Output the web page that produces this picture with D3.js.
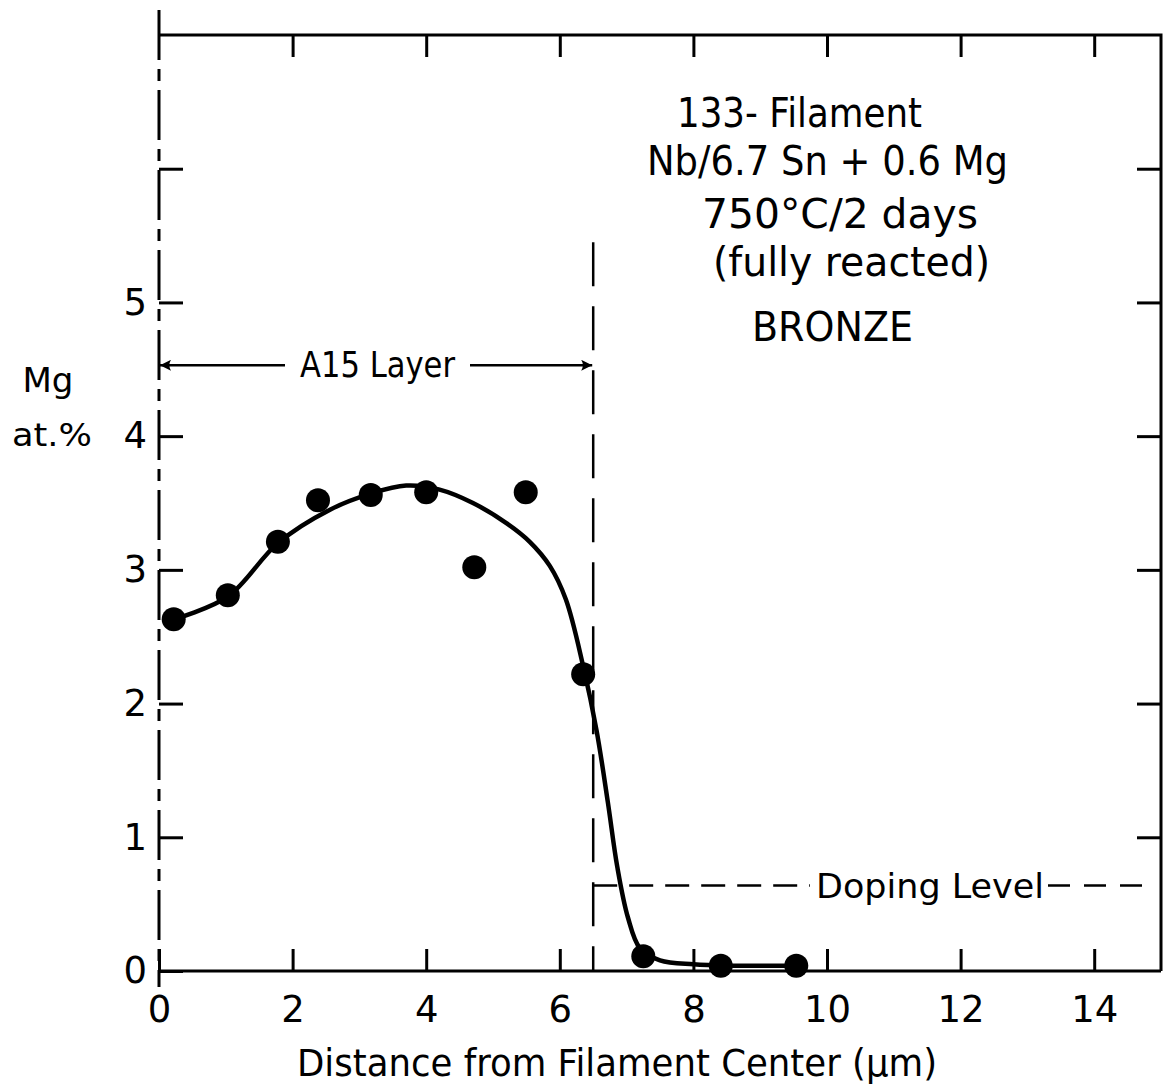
<!DOCTYPE html>
<html>
<head>
<meta charset="utf-8">
<script src="https://cdn.jsdelivr.net/npm/d3@7"></script>
<style>
  body { margin: 0; background: #fff; }
  text { font-family: "DejaVu Sans", sans-serif; fill: #000; }
</style>
</head>
<body>
<div id="chart"></div>
<script>
// axis ticks
const xTicks = [0, 2, 4, 6, 8, 10, 12, 14];
const yTicks = [0, 1, 2, 3, 4, 5, 6];
const yLabels = [0, 1, 2, 3, 4, 5];

// measured points, Mg at.% vs distance (um)
const pointX = [0.22, 1.03, 1.78, 2.38, 3.17, 4.0, 4.72, 5.49, 6.35, 7.25, 8.41, 9.54];
const pointY = [2.63, 2.81, 3.21, 3.52, 3.56, 3.58, 3.02, 3.58, 2.22, 0.11, 0.04, 0.04];

// hand-drawn fit curve
const curveX = [0.22, 1.03, 1.78, 2.56, 3.17, 3.7, 4.2, 4.7, 5.2, 5.55, 5.85, 6.09, 6.35, 6.55, 6.72, 6.86, 7.02, 7.2, 7.5, 8.0, 8.6, 9.6];
const curveY = [2.63, 2.80, 3.20, 3.45, 3.57, 3.63, 3.60, 3.50, 3.35, 3.21, 3.03, 2.78, 2.28, 1.80, 1.26, 0.78, 0.40, 0.17, 0.08, 0.05, 0.04, 0.04];

const layerEdge = 6.5;     // end of A15 layer
const layerTop = 5.45;     // top of the dashed boundary
const layerArrowY = 4.53;
const dopingLevel = 0.64;

const noteLines = ["133- Filament", "Nb/6.7 Sn + 0.6 Mg", "750°C/2 days", "(fully reacted)", "BRONZE"];

const W = 1168, H = 1091;
const svg = d3.select("#chart").append("svg")
    .attr("width", W)
    .attr("height", H);

const x = d3.scaleLinear().domain([0, 15]).range([159, 1161]);
const y = d3.scaleLinear().domain([0, 7]).range([971, 35]);

// frame: top, right, bottom solid
svg.append("path")
    .attr("d", `M${x(0)},${y(7)}H${x(15)}V${y(0)}`)
    .attr("fill", "none").attr("stroke", "#000").attr("stroke-width", 3);

// left axis = filament centre, dash-dot
svg.append("line")
    .attr("x1", x(0)).attr("x2", x(0))
    .attr("y1", 10).attr("y2", 987)
    .attr("stroke", "#000").attr("stroke-width", 3)
    .attr("stroke-dasharray", "50,9,12,9");

const styleAxis = g => {
    g.select(".domain").remove();
    g.selectAll(".tick line").attr("stroke", "#000").attr("stroke-width", 3);
    g.selectAll(".tick text").style("font-size", "37px").attr("fill", "#000");
};

svg.append("g")
    .attr("transform", `translate(0,${y(0)})`)
    .call(d3.axisBottom(x).tickValues(xTicks).tickSize(-22).tickPadding(25).tickSizeOuter(0))
    .call(styleAxis)
    .call(g => g.append("line")
        .attr("x1", x(0)).attr("x2", x(15))
        .attr("stroke", "#000").attr("stroke-width", 3));

svg.append("g")
    .attr("transform", `translate(0,${y(7)})`)
    .call(d3.axisTop(x).tickValues(xTicks.slice(1)).tickSize(-22).tickFormat(""))
    .call(styleAxis);

svg.append("g")
    .attr("transform", `translate(${x(0)},0)`)
    .call(d3.axisLeft(y).tickValues(yTicks).tickSize(-24).tickPadding(12)
        .tickFormat(d => yLabels.includes(d) ? d : ""))
    .call(styleAxis);

svg.append("g")
    .attr("transform", `translate(${x(15)},0)`)
    .call(d3.axisRight(y).tickValues(yTicks.slice(1)).tickSize(-24).tickFormat(""))
    .call(styleAxis);

// axis titles
svg.append("text")
    .attr("x", 297).attr("y", 1076)
    .attr("textLength", 640).attr("lengthAdjust", "spacingAndGlyphs")
    .style("font-size", "37px")
    .text("Distance from Filament Center (μm)");

svg.append("text")
    .attr("x", 48).attr("y", 392)
    .attr("text-anchor", "middle")
    .style("font-size", "34px")
    .text("Mg");
svg.append("text")
    .attr("x", 12).attr("y", 446)
    .attr("textLength", 80).attr("lengthAdjust", "spacingAndGlyphs")
    .style("font-size", "32px")
    .text("at.%");

// A15 layer boundary (dashed)
svg.append("line")
    .attr("x1", x(layerEdge)).attr("x2", x(layerEdge))
    .attr("y1", y(layerTop)).attr("y2", y(0))
    .attr("stroke", "#000").attr("stroke-width", 2.5)
    .attr("stroke-dasharray", "44,20");

// A15 layer arrow
const defs = svg.append("defs");
defs.append("marker")
    .attr("id", "head")
    .attr("viewBox", "0 0 10 10")
    .attr("refX", 10).attr("refY", 5)
    .attr("markerWidth", 17).attr("markerHeight", 11)
    .attr("markerUnits", "userSpaceOnUse")
    .attr("orient", "auto")
    .append("path").attr("d", "M0,0L10,5L0,10Q3,5 0,0Z").attr("fill", "#000");

svg.append("line")
    .attr("x1", 285).attr("x2", x(0) + 1)
    .attr("y1", y(layerArrowY)).attr("y2", y(layerArrowY))
    .attr("stroke", "#000").attr("stroke-width", 2.5)
    .attr("marker-end", "url(#head)");
svg.append("line")
    .attr("x1", 470).attr("x2", x(layerEdge) - 1)
    .attr("y1", y(layerArrowY)).attr("y2", y(layerArrowY))
    .attr("stroke", "#000").attr("stroke-width", 2.5)
    .attr("marker-end", "url(#head)");
svg.append("text")
    .attr("x", 300).attr("y", y(layerArrowY) + 12)
    .attr("textLength", 155).attr("lengthAdjust", "spacingAndGlyphs")
    .style("font-size", "35px")
    .text("A15 Layer");

// doping level
svg.append("line")
    .attr("x1", x(layerEdge)).attr("x2", 810)
    .attr("y1", y(dopingLevel)).attr("y2", y(dopingLevel))
    .attr("stroke", "#000").attr("stroke-width", 2.5)
    .attr("stroke-dasharray", "24,12");
svg.append("line")
    .attr("x1", 1048).attr("x2", 1142)
    .attr("y1", y(dopingLevel)).attr("y2", y(dopingLevel))
    .attr("stroke", "#000").attr("stroke-width", 2.5)
    .attr("stroke-dasharray", "22,14");
svg.append("text")
    .attr("x", 816).attr("y", y(dopingLevel) + 13)
    .attr("textLength", 228).attr("lengthAdjust", "spacingAndGlyphs")
    .style("font-size", "34px")
    .text("Doping Level");

// notes block
const notePos = [
    { x: 677, y: 127, w: 245 },
    { x: 647, y: 175, w: 361 },
    { x: 702, y: 228, w: 276 },
    { x: 713, y: 276, w: 277 },
    { x: 752, y: 341, w: 161 }
];
svg.selectAll(".note")
    .data(noteLines)
    .join("text")
    .attr("class", "note")
    .attr("x", (d, i) => notePos[i].x)
    .attr("y", (d, i) => notePos[i].y)
    .attr("textLength", (d, i) => notePos[i].w)
    .attr("lengthAdjust", "spacingAndGlyphs")
    .style("font-size", "40px")
    .text(d => d);

// fit curve
const curveData = curveX.map((d, i) => [d, curveY[i]]);
const line = d3.line()
    .x(d => x(d[0]))
    .y(d => y(d[1]))
    .curve(d3.curveCatmullRom.alpha(0.5));

svg.append("path")
    .datum(curveData)
    .attr("fill", "none")
    .attr("stroke", "#000")
    .attr("stroke-width", 4.5)
    .attr("d", line);

// points
svg.selectAll(".pt")
    .data(pointX.map((d, i) => [d, pointY[i]]))
    .join("circle")
    .attr("class", "pt")
    .attr("cx", d => x(d[0]))
    .attr("cy", d => y(d[1]))
    .attr("r", 12)
    .attr("fill", "#000");
</script>
</body>
</html>
